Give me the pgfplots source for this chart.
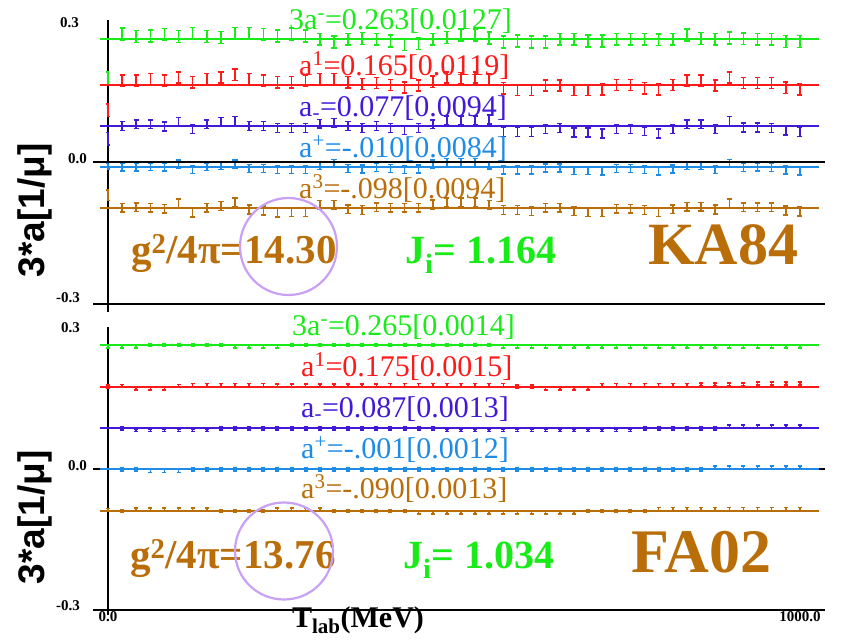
\documentclass[border=0pt]{standalone}
\usepackage{fontspec}
\setmainfont{Liberation Serif}
\setsansfont{Liberation Sans}
\usepackage{pgfplots}
\pgfplotsset{compat=1.18}
\usepackage{pgfplotstable}

\definecolor{cgreen}{RGB}{25,235,25}
\definecolor{cred}{RGB}{255,25,25}
\definecolor{cblue}{RGB}{65,25,215}
\definecolor{clblue}{RGB}{30,140,230}
\definecolor{cbrown}{RGB}{185,110,10}
\definecolor{ccircle}{RGB}{200,160,245}

% error-bar only series: colour, half length, cap half width
\pgfplotsset{
  ebar/.style n args={3}{draw=none, mark=none, forget plot,
    error bars/.cd, y dir=both, y fixed=#2,
    error bar style={draw=#1, line width=1.5pt},
    error mark options={draw=#1, line width=1.5pt, mark size=#3, rotate=90}},
  fitline/.style={line width=2pt, forget plot},
  panel/.style={scale only axis, width=737.77pt, height=308.02pt,
    anchor=south west, xmin=-25, xmax=1020, ymin=-0.33, ymax=0.33,
    hide axis, clip=false},
}

% KA84 single-energy values: T_lab, 3a^-, a^1, a_-, a^+, a^3
\pgfplotstableread{
x g r b l o
20 0.274 0.174 0.077 -0.011 -0.098
40 0.269 0.174 0.081 -0.011 -0.097
60 0.270 0.178 0.081 -0.010 -0.098
80 0.273 0.174 0.076 -0.011 -0.100
100 0.269 0.181 0.086 -0.004 -0.089
120 0.275 0.171 0.071 -0.016 -0.108
140 0.269 0.178 0.081 -0.010 -0.098
160 0.267 0.181 0.086 -0.008 -0.094
180 0.275 0.187 0.088 -0.004 -0.087
200 0.275 0.178 0.077 -0.014 -0.102
220 0.273 0.174 0.077 -0.014 -0.104
240 0.270 0.171 0.073 -0.016 -0.108
260 0.274 0.171 0.073 -0.016 -0.107
280 0.270 0.174 0.073 -0.016 -0.107
300 0.263 0.178 0.082 -0.008 -0.092
320 0.257 0.178 0.084 -0.003 -0.092
340 0.263 0.171 0.077 -0.014 -0.101
360 0.265 0.167 0.073 -0.015 -0.103
380 0.263 0.169 0.077 -0.012 -0.097
400 0.259 0.165 0.073 -0.014 -0.098
420 0.252 0.160 0.068 -0.016 -0.098
440 0.254 0.164 0.073 -0.015 -0.098
460 0.263 0.172 0.081 -0.004 -0.091
480 0.267 0.181 0.089 -0.001 -0.087
500 0.272 0.180 0.089 -0.001 -0.087
520 0.272 0.181 0.089 -0.001 -0.086
540 0.266 0.178 0.091 -0.007 -0.092
560 0.257 0.158 0.064 -0.017 -0.103
580 0.259 0.154 0.064 -0.017 -0.103
600 0.257 0.154 0.064 -0.017 -0.105
620 0.257 0.164 0.071 -0.013 -0.098
640 0.263 0.164 0.073 -0.013 -0.098
660 0.263 0.154 0.063 -0.018 -0.105
680 0.259 0.154 0.063 -0.018 -0.107
700 0.259 0.156 0.061 -0.019 -0.107
720 0.263 0.165 0.071 -0.014 -0.100
740 0.263 0.165 0.071 -0.014 -0.100
760 0.263 0.158 0.066 -0.016 -0.103
780 0.262 0.156 0.061 -0.019 -0.107
800 0.263 0.165 0.071 -0.015 -0.101
820 0.272 0.174 0.081 -0.008 -0.096
840 0.265 0.174 0.081 -0.008 -0.096
860 0.263 0.164 0.071 -0.016 -0.102
880 0.266 0.181 0.088 -0.003 -0.089
900 0.264 0.169 0.074 -0.012 -0.097
920 0.263 0.169 0.074 -0.011 -0.097
940 0.263 0.169 0.073 -0.012 -0.097
960 0.258 0.159 0.067 -0.017 -0.104
980 0.258 0.156 0.064 -0.019 -0.106
}\topdata

% FA02 single-energy values, same columns
\pgfplotstableread{
x g r b l o
20 0.262 0.178 0.087 -0.001 -0.090
40 0.262 0.172 0.083 -0.001 -0.087
60 0.265 0.172 0.083 -0.004 -0.087
80 0.265 0.172 0.083 -0.004 -0.087
100 0.265 0.178 0.083 -0.004 -0.087
120 0.265 0.180 0.083 -0.001 -0.087
140 0.265 0.180 0.083 -0.001 -0.087
160 0.265 0.180 0.087 -0.001 -0.090
180 0.262 0.180 0.087 -0.001 -0.090
200 0.262 0.180 0.087 -0.001 -0.090
220 0.262 0.180 0.087 -0.001 -0.090
240 0.262 0.179 0.087 -0.001 -0.087
260 0.265 0.179 0.087 -0.001 -0.087
280 0.265 0.179 0.087 -0.001 -0.087
300 0.265 0.179 0.087 -0.001 -0.087
320 0.265 0.179 0.087 -0.001 -0.090
340 0.265 0.179 0.087 -0.001 -0.090
360 0.265 0.179 0.087 -0.001 -0.090
380 0.265 0.179 0.087 -0.001 -0.090
400 0.265 0.180 0.087 -0.001 -0.090
420 0.265 0.180 0.087 -0.001 -0.090
440 0.265 0.180 0.087 -0.001 -0.093
460 0.265 0.180 0.087 -0.001 -0.093
480 0.265 0.180 0.083 -0.001 -0.093
500 0.265 0.180 0.083 -0.001 -0.093
520 0.265 0.180 0.083 -0.001 -0.093
540 0.265 0.180 0.083 -0.001 -0.093
560 0.262 0.180 0.083 -0.001 -0.093
580 0.262 0.177 0.083 -0.001 -0.093
600 0.262 0.177 0.083 -0.001 -0.093
620 0.262 0.172 0.083 -0.001 -0.093
640 0.262 0.172 0.083 -0.001 -0.093
660 0.262 0.172 0.083 -0.001 -0.093
680 0.262 0.172 0.083 -0.001 -0.090
700 0.262 0.180 0.083 -0.001 -0.090
720 0.262 0.180 0.083 -0.001 -0.090
740 0.262 0.180 0.083 -0.001 -0.090
760 0.262 0.180 0.087 -0.001 -0.090
780 0.262 0.180 0.087 -0.001 -0.086
800 0.262 0.180 0.087 -0.001 -0.086
820 0.262 0.180 0.087 -0.001 -0.086
840 0.262 0.181 0.087 -0.001 -0.086
860 0.262 0.181 0.087 0.003 -0.086
880 0.262 0.181 0.091 0.003 -0.086
900 0.262 0.181 0.091 0.003 -0.086
920 0.262 0.183 0.091 0.003 -0.086
940 0.262 0.183 0.091 0.003 -0.086
960 0.262 0.183 0.091 0.003 -0.086
980 0.262 0.183 0.091 0.003 -0.086
}\botdata

\begin{document}
\begin{tikzpicture}
\path[use as bounding box] (0pt,0pt) rectangle (847pt,-640pt);

% ---------------- upper panel: KA84 ----------------
\begin{axis}[panel, at={(90.35pt,-316.01pt)}]
  \draw[black, line width=1.6pt] (axis cs:0,0.304) -- (axis cs:0,-0.321);
  \draw[black, line width=1.6pt] (axis cs:-21,-0.304) -- (axis cs:1016,-0.304);
  \addplot[ebar={cgreen}{0.0127}{2.6pt}] table[x=x,y=g] {\topdata};
  \addplot[ebar={cred}{0.0119}{2.6pt}] table[x=x,y=r] {\topdata};
  \addplot[ebar={cblue}{0.0094}{2.6pt}] table[x=x,y=b] {\topdata};
  \addplot[ebar={clblue}{0.0084}{2.6pt}] table[x=x,y=l] {\topdata};
  \addplot[ebar={cbrown}{0.0094}{2.6pt}] table[x=x,y=o] {\topdata};
  \addplot[ebar={cgreen}{0.014}{1.5pt}] coordinates {(0,0.179)};
  \addplot[ebar={cred}{0.013}{1.5pt}] coordinates {(0,0.111)};
  \addplot[ebar={cblue}{0.0135}{1.5pt}] coordinates {(0,0.050)};
  \addplot[ebar={clblue}{0.006}{1.5pt}] coordinates {(0,-0.009)};
  \addplot[ebar={cbrown}{0.011}{1.5pt}] coordinates {(0,-0.071)};
  \addplot[black, line width=1.8pt, forget plot] coordinates {(-21,0) (1016,0)};
  \addplot[fitline, cgreen] coordinates {(-11,0.263) (1007,0.263)};
  \addplot[fitline, cred] coordinates {(-11,0.165) (1007,0.165)};
  \addplot[fitline, cblue] coordinates {(-11,0.077) (1007,0.077)};
  \addplot[fitline, clblue] coordinates {(-11,-0.010) (1007,-0.010)};
  \addplot[fitline, cbrown] coordinates {(-11,-0.098) (1007,-0.098)};
\end{axis}

% ---------------- lower panel: FA02 ----------------
\begin{axis}[panel, at={(90.35pt,-623.01pt)}]
  \draw[black, line width=1.6pt] (axis cs:0,0.304) -- (axis cs:0,-0.313);
  \draw[black, line width=1.6pt] (axis cs:-21,-0.302) -- (axis cs:1016,-0.302);
  \addplot[ebar={cgreen}{0.003}{2pt}] table[x=x,y=g] {\botdata};
  \addplot[ebar={cred}{0.003}{2pt}] table[x=x,y=r] {\botdata};
  \addplot[ebar={cblue}{0.003}{2pt}] table[x=x,y=b] {\botdata};
  \addplot[ebar={clblue}{0.003}{2pt}] table[x=x,y=l] {\botdata};
  \addplot[ebar={cbrown}{0.003}{2pt}] table[x=x,y=o] {\botdata};
  \addplot[ebar={cgreen}{0.003}{2pt}] coordinates {(0,0.262)};
  \addplot[ebar={cred}{0.003}{2pt}] coordinates {(0,0.177)};
  \addplot[ebar={cbrown}{0.003}{2pt}] coordinates {(0,-0.088)};
  \addplot[black, line width=1.8pt, forget plot] coordinates {(-21,0) (1016,0)};
  \addplot[fitline, cgreen] coordinates {(-11,0.265) (1007,0.265)};
  \addplot[fitline, cred] coordinates {(-11,0.175) (1007,0.175)};
  \addplot[fitline, cblue] coordinates {(-11,0.087) (1007,0.087)};
  \addplot[fitline, clblue] coordinates {(-11,-0.001) (1007,-0.001)};
  \addplot[fitline, cbrown] coordinates {(-11,-0.090) (1007,-0.090)};
\end{axis}

\begin{scope}[x=1pt,y=1pt]
% tick labels
\begin{scope}[every node/.style={inner sep=0, font=\bfseries\fontsize{15}{17}\selectfont}]
  \node[anchor=east] at (79,-22.5) {0.3};
  \node[anchor=east] at (87,-158.5) {0.0};
  \node[anchor=east] at (80,-298) {-0.3};
  \node[anchor=east] at (80,-328) {0.3};
  \node[anchor=east] at (87,-466) {0.0};
  \node[anchor=east] at (80,-606) {-0.3};
  \node at (108,-617) {0.0};
  \node at (800,-617) {1000.0};
\end{scope}

% axis titles
\node[rotate=90, inner sep=0, font=\sffamily\bfseries\fontsize{37}{40}\selectfont] at (35,-210.5) {3*a[1/μ]};
\node[rotate=90, inner sep=0, font=\sffamily\bfseries\fontsize{37}{40}\selectfont] at (35,-517.5) {3*a[1/μ]};
\node[anchor=base, inner sep=0, font=\bfseries\fontsize{30}{32}\selectfont] at (358,-627) {T\textsubscript{lab}(MeV)};

% fitted values
\begin{scope}[every node/.style={inner sep=0, anchor=base west, font=\fontsize{30}{32}\selectfont}]
  \node[text=cgreen] at (289,-29) {3a\textsuperscript{-}=0.263[0.0127]};
  \node[text=cred] at (299,-75) {a\textsuperscript{1}=0.165[0.0119]};
  \node[text=cblue] at (299,-116) {a\textsubscript{-}=0.077[0.0094]};
  \node[text=clblue] at (299,-157) {a\textsuperscript{+}=-.010[0.0084]};
  \node[text=cbrown] at (299,-198) {a\textsuperscript{3}=-.098[0.0094]};
  \node[text=cgreen] at (292,-335) {3a\textsuperscript{-}=0.265[0.0014]};
  \node[text=cred] at (301,-376) {a\textsuperscript{1}=0.175[0.0015]};
  \node[text=cblue] at (301,-417) {a\textsubscript{-}=0.087[0.0013]};
  \node[text=clblue] at (301,-458) {a\textsuperscript{+}=-.001[0.0012]};
  \node[text=cbrown] at (301,-498) {a\textsuperscript{3}=-.090[0.0013]};
\end{scope}

% coupling constant, normalisation and data-set name
\begin{scope}[every node/.style={inner sep=0, anchor=base west}]
  \node[text=cbrown, font=\bfseries\fontsize{41}{44}\selectfont] at (131,-263) {g\textsuperscript{2}/4π=14.30};
  \node[text=cgreen, font=\bfseries\fontsize{40}{44}\selectfont] at (405,-263) {J\textsubscript{i}= 1.164};
  \node[text=cbrown, font=\bfseries\fontsize{60}{64}\selectfont] at (648,-264) {KA84};
  \node[text=cbrown, font=\bfseries\fontsize{41}{44}\selectfont] at (130,-568) {g\textsuperscript{2}/4π=13.76};
  \node[text=cgreen, font=\bfseries\fontsize{40}{44}\selectfont] at (403,-568) {J\textsubscript{i}= 1.034};
  \node[text=cbrown, font=\bfseries\fontsize{62}{66}\selectfont] at (631,-572) {FA02};
\end{scope}

\draw[ccircle, line width=2.2pt] (288.5,-246.5) circle [radius=48.5];
\draw[ccircle, line width=2.2pt] (284,-551) ellipse [x radius=49, y radius=48.5];
\end{scope}
\end{tikzpicture}
\end{document}
